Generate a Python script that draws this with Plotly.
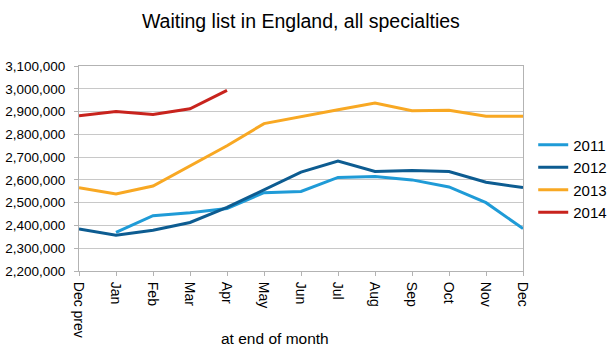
import plotly.graph_objects as go

months = ["Dec prev", "Jan", "Feb", "Mar", "Apr", "May", "Jun", "Jul", "Aug", "Sep", "Oct", "Nov", "Dec"]
y2011 = [None, 2370000, 2443000, 2456000, 2474000, 2544000, 2549000, 2611000, 2615000, 2600000, 2569000, 2500000, 2386000]
y2012 = [2384000, 2357000, 2379000, 2413000, 2479000, 2556000, 2634000, 2683000, 2637000, 2641000, 2637000, 2590000, 2566000]
y2013 = [2566000, 2538000, 2573000, 2662000, 2750000, 2847000, 2879000, 2908000, 2937000, 2904000, 2906000, 2879000, 2879000]
y2014 = [2882000, 2900000, 2887000, 2912000, 2993000]
yticks = list(range(2200000, 3100001, 100000))

series = [("2011", y2011, "#1f9bd7"), ("2012", y2012, "#0d5c91"),
          ("2013", y2013, "#f8a823"), ("2014", y2014, "#c8231d")]

x = list(range(len(months)))
fig = go.Figure()
for name, vals, col in series:
    fig.add_trace(go.Scatter(x=x[:len(vals)], y=vals, name=name, mode="lines",
                             line=dict(color=col, width=3), connectgaps=False))

font = "Liberation Sans, Arial, sans-serif"
fig.update_layout(
    width=614, height=355,
    margin=dict(l=79, r=91, t=66, b=84, autoexpand=False),
    paper_bgcolor="white", plot_bgcolor="white",
    font=dict(family=font, size=13, color="black"),
    title=dict(text="Waiting list in England, all specialties", x=0.49, xanchor="center",
               y=0.94, yanchor="middle", font=dict(size=19.5, color="black")),
    showlegend=True,
    legend=dict(x=1.023, y=0.695, xanchor="left", yanchor="top", font=dict(size=15),
                itemwidth=30, tracegroupgap=0, bgcolor="rgba(0,0,0,0)"),
    xaxis=dict(range=[0, 12], tickvals=x, ticktext=months, tickangle=90,
               showgrid=False, showline=True, linecolor="#b3b3b3", mirror=True,
               ticks="outside", ticklen=4, tickcolor="#b3b3b3", zeroline=False,
               automargin=False, ticklabelstandoff=3, tickfont=dict(size=14)),
    yaxis=dict(range=[2200000, 3100000], tickvals=yticks, tickformat=",",
               showgrid=True, gridcolor="#c8c8c8", gridwidth=1,
               showline=True, linecolor="#b3b3b3", mirror=True,
               ticks="outside", ticklen=4, tickcolor="#b3b3b3", zeroline=False,
               automargin=False, ticklabelstandoff=6, tickfont=dict(size=13.5)),
    annotations=[dict(text="at end of month", xref="paper", yref="paper",
                      x=0.441, y=-0.327, xanchor="center", yanchor="middle",
                      showarrow=False, font=dict(size=15.5))],
)
fig.write_html("out.html", config={"displayModeBar": False},
               post_script="document.body.style.margin='0';")
